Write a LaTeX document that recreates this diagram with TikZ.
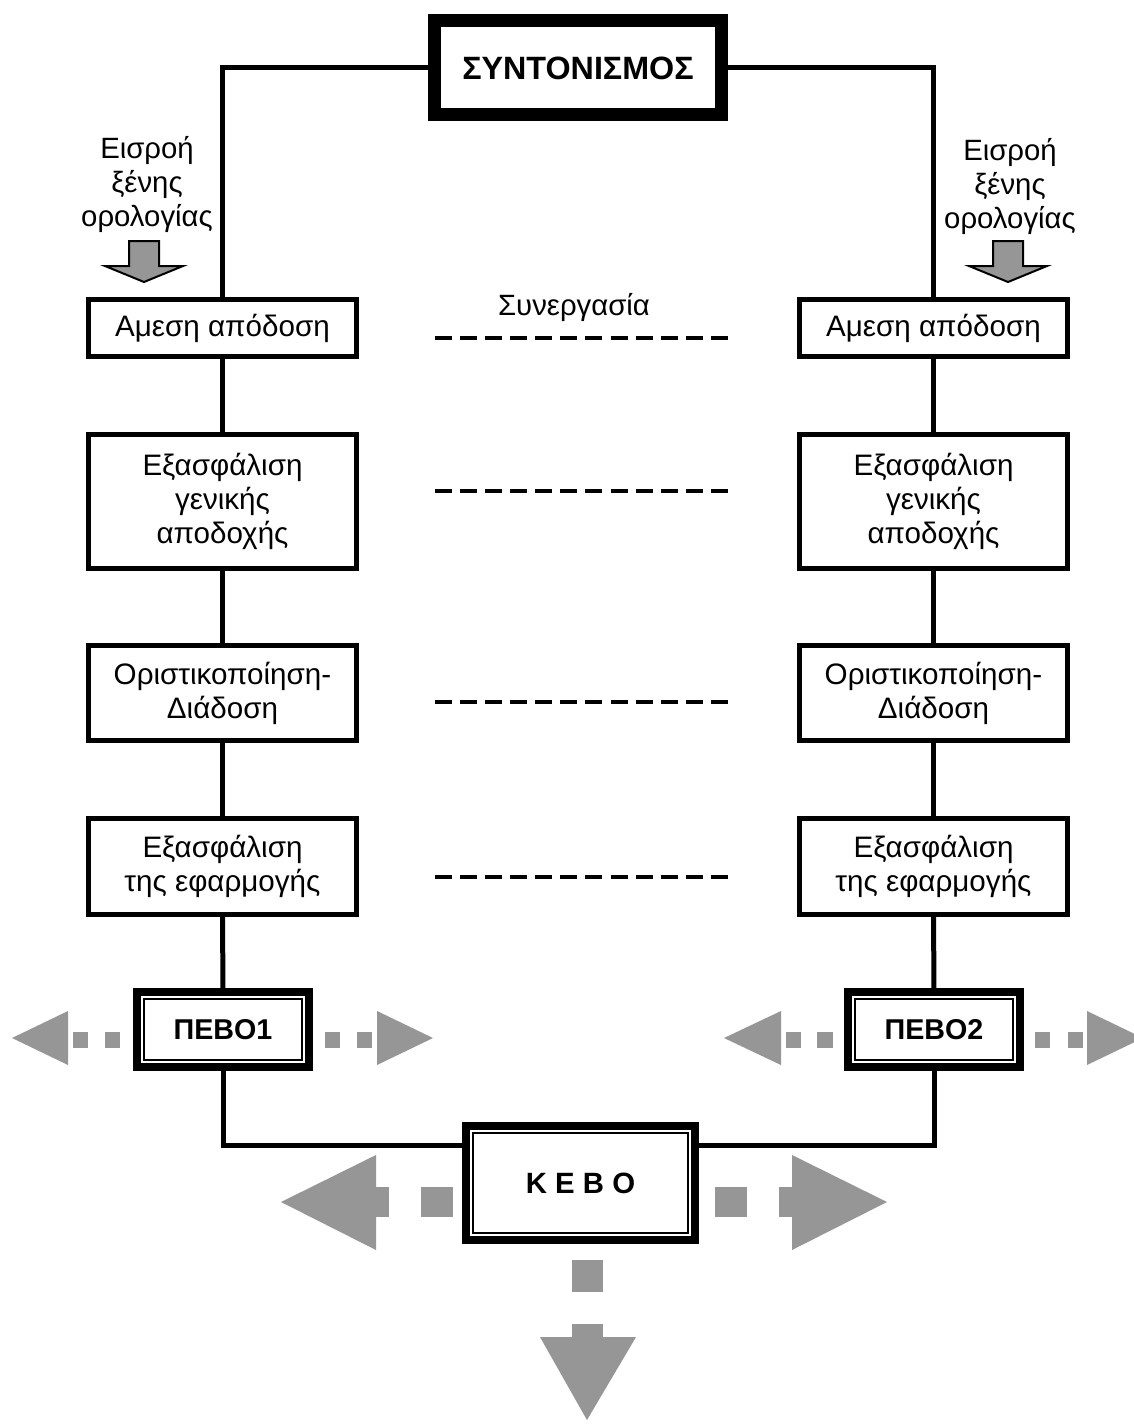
\documentclass[tikz,border=0pt]{standalone}
\usepackage{fontspec}
\setmainfont{Liberation Sans}
\definecolor{arrgray}{RGB}{150,150,150}
\begin{document}
\begin{tikzpicture}[x=0.75pt,y=-0.75pt,
  conn/.style={line width=3.75pt},
  box/.style={draw,line width=3.75pt,minimum width=201pt,inner sep=0pt,outer sep=0pt,align=center,font=\fontsize{22.2}{25.5}\selectfont},
  dbl/.style={draw,line width=6pt,inner sep=0pt,outer sep=0pt,align=center,font=\fontsize{21.5}{25}\selectfont\bfseries},
  innerln/.style={line width=1.5pt},
  dashln/.style={line width=3pt,dash pattern=on 12.75pt off 6.06pt},
  garr/.style={fill=arrgray,draw=none},
  inarr/.style={fill=arrgray,draw=black,line width=1.5pt,line join=miter},
  lbl/.style={align=center,font=\fontsize{22}{25.5}\selectfont}]
\useasboundingbox (0,0) rectangle (1134,1427);
\clip (0,0) rectangle (1134,1427);
\fill[white] (0,0) rectangle (1134,1427);

% top box
\node[draw,line width=9.75pt,minimum width=215.25pt,minimum height=70.5pt,inner sep=0pt,outer sep=0pt,font=\fontsize{24.2}{28}\selectfont\bfseries] (top) at (578,68) {ΣΥΝΤΟΝΙΣΜΟΣ};

% left column
\node[box,minimum height=42.75pt] (L1) at (222.5,328) {Αμεση απόδοση};
\node[box,minimum height=100.5pt] (L2) at (222.5,501.5) {Εξασφάλιση\\γενικής\\αποδοχής};
\node[box,minimum height=71.25pt] (L3) at (222.5,693) {Οριστικοποίηση-\\Διάδοση};
\node[box,minimum height=72pt] (L4) at (222.5,866.5) {Εξασφάλιση\\της εφαρμογής};
% right column
\node[box,minimum height=42.75pt] (R1) at (933.5,328) {Αμεση απόδοση};
\node[box,minimum height=100.5pt] (R2) at (933.5,501.5) {Εξασφάλιση\\γενικής\\αποδοχής};
\node[box,minimum height=71.25pt] (R3) at (933.5,693) {Οριστικοποίηση-\\Διάδοση};
\node[box,minimum height=72pt] (R4) at (933.5,866.5) {Εξασφάλιση\\της εφαρμογής};

% double boxes
\node[dbl,minimum width=129pt,minimum height=56.25pt] (P1) at (223,1029.5) {ΠΕΒΟ1};
\node[dbl,minimum width=129pt,minimum height=56.25pt] (P2) at (934,1029.5) {ΠΕΒΟ2};
\node[dbl,minimum width=171.75pt,minimum height=85.5pt,font=\fontsize{22}{25}\selectfont\bfseries] (K) at (580.5,1183) {Κ Ε Β Ο};
\foreach \n in {P1,P2,K}
  \draw[innerln] ([xshift=5.25pt,yshift=-5.25pt]\n.north west) rectangle ([xshift=-5.25pt,yshift=5.25pt]\n.south east);

% connectors
\draw[conn] (top.west) -| (L1.north);
\draw[conn] (top.east) -| (R1.north);
\draw[conn] (L1.south) -- (L2.north);
\draw[conn] (L2.south) -- (L3.north);
\draw[conn] (L3.south) -- (L4.north);
\draw[conn] (L4.south) -- (P1.north);
\draw[conn] (R1.south) -- (R2.north);
\draw[conn] (R2.south) -- (R3.north);
\draw[conn] (R3.south) -- (R4.north);
\draw[conn] (R4.south) -- (P2.north);
\coordinate (kl) at (466,1145);
\coordinate (kr) at (695,1145);
\draw[conn] (P1.south) |- (kl);
\draw[conn] (P2.south) |- (kr);

% cooperation dashed lines
\node[lbl,anchor=base] (syn) at (574,315) {Συνεργασία};
\foreach \y in {338,491,702,877}
  \draw[dashln] (435,\y) -- (730,\y);

% input labels and arrows
\node[lbl] (inL) at (147,184) {Εισροή\\ξένης\\ορολογίας};
\node[lbl] (inR) at (1010,186) {Εισροή\\ξένης\\ορολογίας};
\foreach \x in {144,1008}
  \filldraw[inarr] (\x-15,241) -- (\x+15,241) -- (\x+15,266) -- (\x+39,266) -- (\x,282) -- (\x-39,266) -- (\x-15,266) -- cycle;

% gray dotted arrows around P1
\fill[garr] (12,1038) -- (68,1011) -- (68,1065) -- cycle;
\fill[garr] (73,1032) rectangle (88,1048);
\fill[garr] (105,1032) rectangle (120,1048);
\fill[garr] (325,1032) rectangle (340,1048);
\fill[garr] (357,1032) rectangle (372,1048);
\fill[garr] (377,1011) -- (433,1038) -- (377,1065) -- cycle;
% around P2
\fill[garr] (724,1038) -- (781,1011) -- (781,1065) -- cycle;
\fill[garr] (786,1032) rectangle (801,1048);
\fill[garr] (817,1032) rectangle (833,1048);
\fill[garr] (1035,1032) rectangle (1050,1048);
\fill[garr] (1068,1032) rectangle (1083,1048);
\fill[garr] (1087,1011) -- (1143,1038) -- (1087,1065) -- cycle;
% around K
\fill[garr] (281,1202) -- (376,1155) -- (376,1250) -- cycle;
\fill[garr] (375,1187) rectangle (389,1217);
\fill[garr] (421,1187) rectangle (453,1217);
\fill[garr] (715,1187) rectangle (747,1217);
\fill[garr] (779,1187) rectangle (793,1217);
\fill[garr] (792,1155) -- (887,1202) -- (792,1250) -- cycle;
\fill[garr] (572,1260) rectangle (603,1292);
\fill[garr] (572,1324) rectangle (603,1338);
\fill[garr] (540,1337) -- (636,1337) -- (587,1420) -- cycle;
\end{tikzpicture}
\end{document}
